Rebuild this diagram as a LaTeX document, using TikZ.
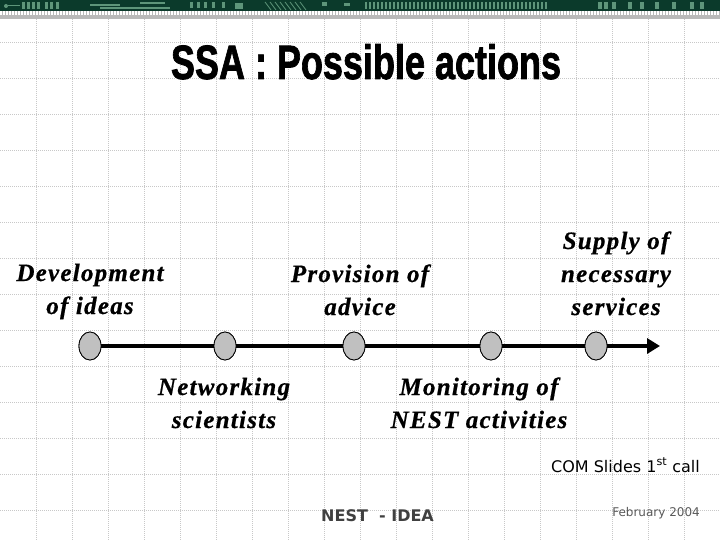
\documentclass[tikz,border=0pt]{standalone}
\usepackage{fontspec}
\setmainfont{Liberation Serif}
\newfontfamily\labfont[LetterSpace=5,FakeBold=0.6]{Liberation Serif}
\newfontfamily\titlefont[FakeBold=1.8]{Liberation Sans}
\newfontfamily\footfont{DejaVu Sans}
\usetikzlibrary{arrows.meta,shapes.geometric}
\definecolor{bannergreen}{HTML}{0B3A2B}
\definecolor{tracegreen}{HTML}{5E957A}
\definecolor{gridgray}{HTML}{C8C8C8}
\definecolor{dotfill}{HTML}{C0C0C0}
\tikzset{
  lab/.style={font=\labfont\bfseries\itshape\fontsize{25}{33}\selectfont, align=center, inner sep=0pt, anchor=base},
  stage/.style={ellipse, draw=black, line width=0.8pt, fill=dotfill, minimum width=22pt, minimum height=28pt, inner sep=0pt},
  gridline/.style={gridgray, line width=0.6pt, dash pattern=on 1pt off 1pt},
  trace/.style={fill=tracegreen}
}
\begin{document}
\begin{tikzpicture}[x=1pt,y=-1pt]
\useasboundingbox (0,0) rectangle (720,540);
\fill[white] (0,0) rectangle (720,540);
% grid
\foreach \gx in {36,72,...,700} \draw[gridline] (\gx,19) -- (\gx,540);
\foreach \gy in {42,78,...,540} \draw[gridline] (0,\gy) -- (720,\gy);
% banner
\fill[bannergreen] (0,0) rectangle (720,11);
\fill[gray!55] (0,11) rectangle (720,19);
\draw[white, line width=4pt, dash pattern=on 2pt off 1pt] (0,13) -- (720,13);
% circuit-like traces
\foreach \bx in {22,27,32,37,45,50,56}
  \fill[trace] (\bx,2) rectangle ++(2.5,7);
\fill[trace] (6,6) circle (2);
\draw[tracegreen, line width=1pt] (8,6) -- (20,6);
\draw[tracegreen, line width=1.5pt] (90,5) -- (120,5) (100,8) -- (170,8) (140,3) -- (165,3);
\foreach \bx in {190,197,204,212,222}
  \fill[trace] (\bx,2) rectangle ++(3,6);
\fill[trace] (235,3) rectangle ++(8,6);
\foreach \bx in {265,270,...,300}
  \draw[tracegreen, line width=0.8pt] (\bx,2) -- ++(6,8);
\fill[trace] (322,2) rectangle ++(5,4);
\fill[trace] (344,3) rectangle ++(6,3);
\foreach \bx in {365,369,...,545}
  \fill[trace] (\bx,2) rectangle ++(2,7);
\foreach \bx in {598,604,612,628,640,655,672,690,700}
  \fill[trace] (\bx,2) rectangle ++(4,7);
% title
\node[font=\titlefont\bfseries\fontsize{45}{50}\selectfont, inner sep=0pt, anchor=base] (title) at (366,79)
  {\scalebox{0.80}[1.07]{SSA : Possible actions}};
% timeline
\node[stage] (s1) at (90,346) {};
\node[stage] (s2) at (225,346) {};
\node[stage] (s3) at (354,346) {};
\node[stage] (s4) at (491,346) {};
\node[stage] (s5) at (596,346) {};
\coordinate (tip) at (660,346);
\draw[line width=4.8pt, -{Triangle[length=13pt,width=15pt]}] (s1.center) -- (tip);
\foreach \s in {s1,s2,s3,s4,s5} \node[stage] at (\s) {};
% labels (anchor base = baseline of the last line)
\node[lab] (l1) at (90,314) {Development\\of ideas};
\node[lab] (l3) at (360,315) {Provision of\\advice};
\node[lab] (l5) at (616,315) {Supply of\\necessary\\services};
\node[lab] (l2) at (224,428) {Networking\\scientists};
\node[lab] (l4) at (479,428) {Monitoring of\\NEST activities};
% footer
\node[font=\footfont\fontsize{16}{19}\selectfont, inner sep=0pt, anchor=base east] (com) at (700,472) {COM Slides 1\textsuperscript{st} call};
\node[font=\footfont\fontsize{12}{14}\selectfont, text=black!65, inner sep=0pt, anchor=base east] (date) at (700,516) {February 2004};
\node[font=\footfont\bfseries\fontsize{16}{19}\selectfont, text=black!75, inner sep=0pt, anchor=base west] (nest) at (321,521) {NEST\ \ - IDEA};
\end{tikzpicture}
\end{document}
